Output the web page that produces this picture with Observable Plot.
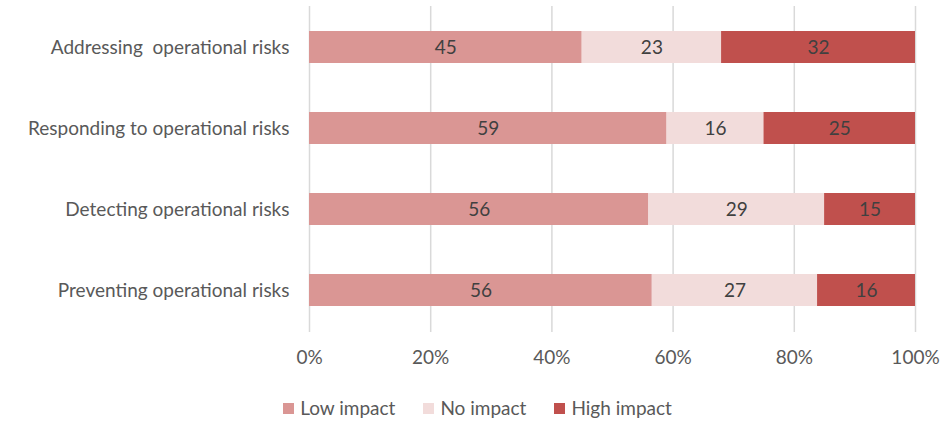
<!DOCTYPE html>
<html>
<head>
<meta charset="utf-8">
<script src="https://cdn.jsdelivr.net/npm/d3@7"></script>
<script src="https://cdn.jsdelivr.net/npm/@observablehq/plot@0.6"></script>
<style>
  html, body { margin: 0; padding: 0; background: #fff; }
  body { width: 941px; height: 423px; overflow: hidden; font-family: Lato, "Open Sans", sans-serif; }
  svg text { white-space: pre; }
  .legend { display: flex; justify-content: center; margin-left: 14px; margin-top: 22px; font-size: 19px; color: #595959; line-height: 20px; }
  .legend .item { display: flex; align-items: center; margin: 0 14px; }
  .legend .sw { width: 11px; height: 11px; margin-right: 6px; }
</style>
</head>
<body>
<div id="chart"></div>
<script>
const categories = ["Addressing  operational risks", "Responding to operational risks", "Detecting operational risks", "Preventing operational risks"];
const seriesNames = ["Low impact", "No impact", "High impact"];
const seriesColors = ["#DA9694", "#F2DCDB", "#C0504D"];
const lowImpact = [45, 59, 56, 56];
const noImpact = [23, 16, 29, 27];
const highImpact = [32, 25, 15, 16];
const xTicks = [0, 0.2, 0.4, 0.6, 0.8, 1];

const seriesValues = [lowImpact, noImpact, highImpact];
const data = [];
categories.forEach((c, i) => {
  seriesNames.forEach((s, j) => data.push({category: c, series: s, value: seriesValues[j][i]}));
});

const chart = Plot.plot({
  width: 941,
  height: 376,
  marginLeft: 309,
  marginRight: 26,
  marginTop: 6,
  marginBottom: 44,
  style: {fontFamily: "Lato, 'Open Sans', sans-serif", fontSize: "19px", color: "#595959", background: "#fff"},
  x: {domain: [0, 1], ticks: xTicks, tickFormat: d => Math.round(d * 100) + "%", tickSize: 0, tickPadding: 18, label: null},
  y: {domain: categories, paddingInner: 0.6, paddingOuter: 0.3, tickSize: 0, tickPadding: 20, label: null},
  color: {domain: seriesNames, range: seriesColors},
  marks: [
    Plot.gridX(xTicks, {stroke: "#d9d9d9", strokeOpacity: 1, strokeWidth: 1.5}),
    Plot.barX(data, Plot.stackX({y: "category", x: "value", fill: "series", offset: "normalize"})),
    Plot.textX(data, Plot.stackX({y: "category", x: "value", z: "series", text: d => String(d.value), offset: "normalize", fill: "#404040", fontSize: 19})),
    Plot.axisX({ticks: xTicks, tickFormat: d => Math.round(d * 100) + "%", tickSize: 0, tickPadding: 18, fill: "#595959", fontSize: 19}),
    Plot.axisY({tickSize: 0, tickPadding: 20, fill: "#595959", fontSize: 19})
  ]
});
document.getElementById("chart").appendChild(chart);

const legend = document.createElement("div");
legend.className = "legend";
seriesNames.forEach((s, j) => {
  const item = document.createElement("div");
  item.className = "item";
  const sw = document.createElement("span");
  sw.className = "sw";
  sw.style.background = seriesColors[j];
  const lab = document.createElement("span");
  lab.textContent = s;
  item.appendChild(sw);
  item.appendChild(lab);
  legend.appendChild(item);
});
document.getElementById("chart").appendChild(legend);
</script>
</body>
</html>
